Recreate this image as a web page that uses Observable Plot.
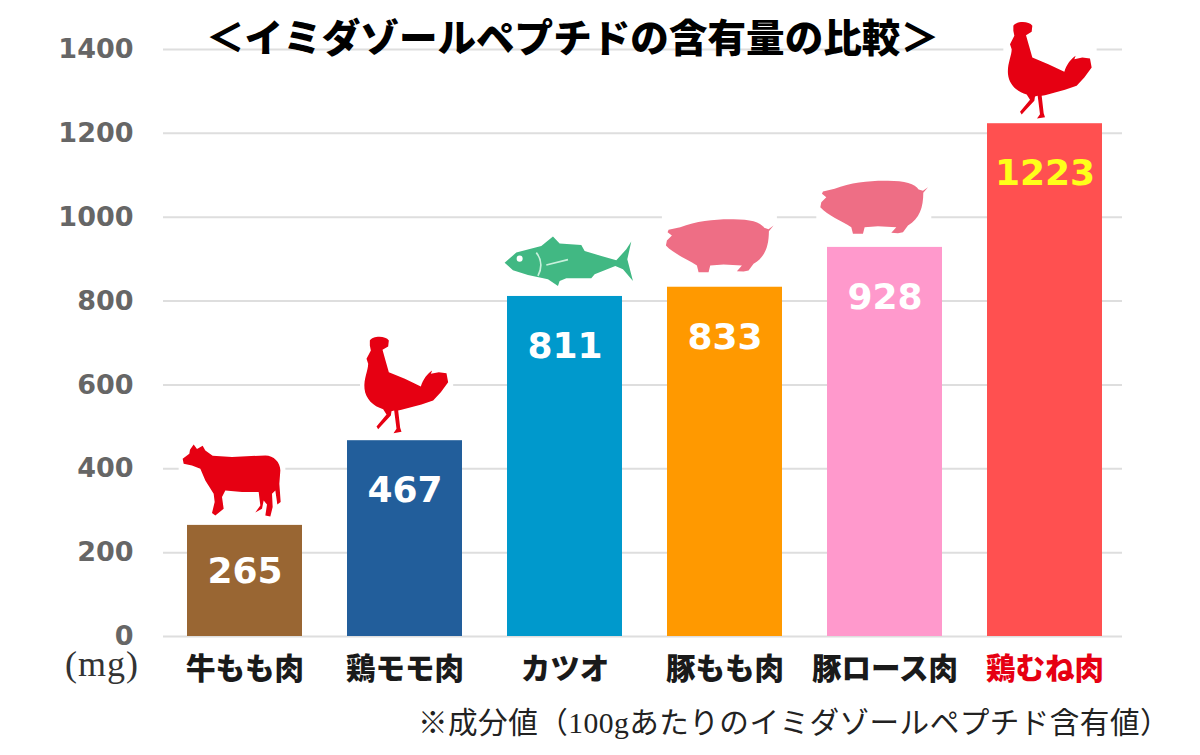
<!DOCTYPE html>
<html lang="ja">
<head>
<meta charset="utf-8">
<script src="https://cdn.jsdelivr.net/npm/d3@7"></script>
<script src="https://cdn.jsdelivr.net/npm/@observablehq/plot@0.6"></script>
<style>
html,body{margin:0;padding:0;background:#fff;}
#wrap{position:relative;width:1200px;height:755px;overflow:hidden;}
#wrap svg{position:absolute;left:0;top:0;}
.t{position:absolute;white-space:nowrap;line-height:1;font-family:"Liberation Serif","Noto Sans CJK JP",sans-serif;}
#title{left:205px;top:16px;width:735px;text-align:center;font:900 38.6px "Noto Sans CJK JP",sans-serif;line-height:1;color:#000;}
#unit{left:65px;top:646px;font-size:36px;letter-spacing:1px;color:#333;}
#note{left:418px;top:709px;font-size:29.6px;letter-spacing:0.45px;color:#222;}
</style>
</head>
<body>
<div id="wrap">
<div id="chart"></div>
<div class="t" id="title">＜イミダゾールペプチドの含有量の比較＞</div>
<div class="t" id="unit">(mg)</div>
<div class="t" id="note">※成分値（100gあたりのイミダゾールペプチド含有値）</div>
</div>
<script>
const categories = ["牛もも肉","鶏モモ肉","カツオ","豚もも肉","豚ロース肉","鶏むね肉"];
const values = [265,467,811,833,928,1223];
const barColors = ["#996633","#225e9b","#0099cc","#ff9900","#ff99cc","#ff5050"];
const labelColors = ["#ffffff","#ffffff","#ffffff","#ffffff","#ffffff","#ffff1a"];
const yTicks = [0,200,400,600,800,1000,1200,1400];
const table = categories.map((c,i)=>({category:c,value:values[i],color:barColors[i],labelColor:labelColors[i]}));

const svgUri = (viewBox, body) => "data:image/svg+xml;utf8," + encodeURIComponent(
  `<svg xmlns="http://www.w3.org/2000/svg" viewBox="${viewBox}"><rect x="-2000" y="-2000" width="5000" height="5000" fill="#fff"/>${body}</svg>`);

const rooster = svgUri("595 35 280 315", `<path fill="#e60012" d="M625,60C632,46 672,44 682,60L680,78L663,88L672,120L682,155L730,175L778,198C785,175 798,160 812,150L808,160L832,155L855,158L860,185L838,215L815,240L780,252L720,268L710,270L716,322L720,334L696,338L705,325L698,270L690,272L688,285L660,315L650,326L645,318L675,282L665,266C635,258 612,235 609,205C606,175 620,150 620,130L615,115L628,90L625,75Z"/>`);
const cow = svgUri("50 360 320 240", `<path fill="#e60012" d="M84,388L95,372L105,386L122,376L130,390L152,406L210,410L310,405C335,405 355,425 355,450L352,490L356,545L346,552L340,510L330,520L332,560L325,588L310,585L315,552L305,540L300,565L280,576L295,555L290,515L240,515L190,510L180,530L185,565L160,585L150,578L158,545L155,520L130,480L115,445L90,435L65,430L62,415L82,400Z"/>`);
const pig = svgUri("515 135 345 180", `<path fill="#ee6e85" d="M535,178L570,170C620,150 680,145 730,146C780,146 812,155 822,172L835,176L850,165L836,182C836,225 825,260 790,280L775,300L760,303L740,302L755,285L700,282L660,285L655,305L640,305L625,305L620,285C590,265 550,250 527,225L530,210L545,195L532,185Z"/>`);
const fish = svgUri("30 185 405 170", `<path fill="#41b883" d="M40,275L75,245L150,225L185,197L205,218L270,222L280,240L330,255L375,268L405,235L420,212L408,265L425,330L395,295L372,285L310,310L300,322L225,322L205,330L200,345L170,325L110,312L65,298Z"/><circle cx="85" cy="263" r="9" fill="#fff"/><path fill="none" stroke="#c8f0dc" stroke-width="5" d="M135,245C155,270 150,295 140,315M165,282L230,266"/>`);

const icon = (i, src, width, height, dx, dy) => Plot.image([table[i]], {
  x:"category", y:"value", src:()=>src, width, height, dx, dy
});

const chart = Plot.plot({
  width:1200, height:755,
  marginTop:49, marginBottom:119, marginLeft:163, marginRight:78,
  style:{background:"transparent",overflow:"visible"},
  x:{domain:categories, range:[162.7,1126.3], paddingInner:0.283, paddingOuter:0.1415, label:null},
  y:{domain:[0,1400], label:null},
  color:{type:"identity"},
  marks:[
    Plot.ruleY(yTicks,{stroke:"#dedede",strokeWidth:2}),
    icon(0,cow,106.7,80,-13,-45),
    icon(1,rooster,93.3,105,1.5,-56),
    icon(2,fish,135,56.7,3.8,-35.5),
    icon(3,pig,115,60,-5.6,-41.7),
    icon(4,pig,115,60,-11.2,-40.2),
    icon(5,rooster,93.3,105,5,-53.7),
    Plot.barY(table,{x:"category",y:"value",fill:"color"}),
    Plot.text(table.slice(0,1),{x:"category",y:"value",text:d=>String(d.value),fill:"labelColor",dy:46,
      fontSize:36,fontWeight:"bold",fontFamily:"DejaVu Sans"}),
    Plot.text(table.slice(1),{x:"category",y:"value",text:d=>String(d.value),fill:"labelColor",dy:50,
      fontSize:36,fontWeight:"bold",fontFamily:"DejaVu Sans"}),
    Plot.axisY({ticks:yTicks,tickFormat:d=>String(d),tickSize:0,tickPadding:30,fontSize:27,fontWeight:"bold",
      fontFamily:"DejaVu Sans",color:"#666666",label:null}),
    Plot.axisX({tickSize:0,tickPadding:22,fontSize:29.5,fontWeight:900,
      fontFamily:"Noto Sans CJK JP",label:null,
      fill:d=>d==="鶏むね肉"?"#e60012":"#1a1a1a"})
  ]
});
document.getElementById("chart").appendChild(chart);
</script>
</body>
</html>
